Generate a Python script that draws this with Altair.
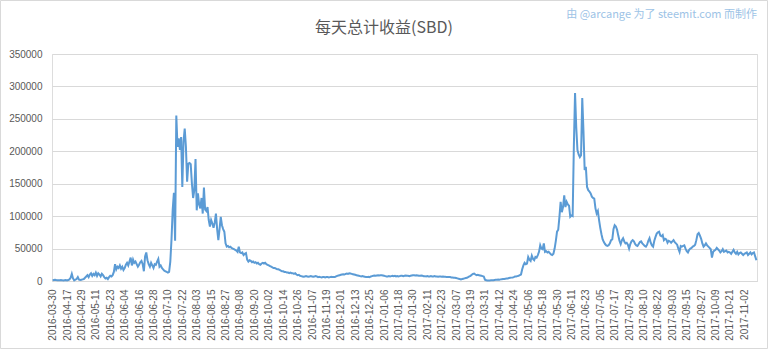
import altair as alt
import pandas as pd

# Daily total payout (SBD)
values = [
    1000, 1500, 2000, 1500, 1200, 1000, 1200, 1500, 1000, 800,
    1200, 1500, 1000, 1500, 2500, 5000, 11000, 4000, 1000, 2000,
    3000, 6000, 2000, 1500, 2000, 2500, 3000, 5000, 7000, 9000,
    6000, 10000, 12000, 8000, 11000, 9000, 13000, 8000, 12000, 10000,
    7000, 11000, 9000, 6000, 4000, 5000, 3000, 6000, 8000, 7000,
    9000, 14000, 26000, 18000, 22000, 20000, 24000, 19000, 22000, 17000,
    20000, 25000, 28000, 24000, 30000, 36000, 24000, 33000, 28000, 30000,
    26000, 22000, 25000, 29000, 31000, 26000, 15000, 38000, 44000, 32000,
    26000, 22000, 28000, 24000, 20000, 26000, 25000, 30000, 34000, 22000,
    24000, 20000, 18000, 16000, 15000, 14000, 13000, 14000, 30000, 64000,
    110000, 136000, 62000, 255000, 207000, 220000, 202000, 222000, 145000, 215000,
    235000, 207000, 153000, 181000, 182000, 180000, 150000, 128000, 140000, 188000,
    109000, 135000, 118000, 112000, 128000, 104000, 144000, 110000, 108000, 114000,
    94000, 84000, 94000, 89000, 82000, 90000, 104000, 80000, 63000, 80000,
    99000, 86000, 80000, 76000, 58000, 53000, 54000, 52000, 53000, 51000,
    50000, 49000, 48000, 47000, 45000, 53000, 44000, 43000, 44000, 40000,
    42000, 43000, 33000, 30000, 32000, 31000, 29000, 30000, 28000, 29000,
    27000, 28000, 26000, 25000, 27000, 28000, 27000, 28000, 26000, 25000,
    24000, 23000, 22000, 21000, 20000, 20000, 19000, 18000, 18000, 17000,
    16000, 15000, 15000, 14000, 14000, 13000, 13000, 12000, 13000, 12000,
    12000, 11000, 12000, 10000, 9000, 9500, 8000, 7500, 7000, 6500,
    7000, 7500, 7000, 6500, 7000, 7500, 7000, 6500, 7000, 7500,
    7000, 6000, 6500, 6000, 5500, 6000, 6000, 5500, 6000, 6000,
    5500, 6000, 6500, 6000, 6000, 6000, 7000, 8000, 8500, 9000,
    9500, 10000, 10500, 10000, 11000, 11500, 11000, 12000, 11500, 11000,
    10500, 10000, 9500, 9000, 8500, 8000, 7500, 7000, 7500, 7000,
    6500, 6000, 6000, 6500, 6000, 7000, 7500, 8000, 8500, 8000,
    8500, 9000, 8500, 9000, 9000, 8500, 8000, 7500, 7000, 7000,
    7500, 7000, 7500, 8000, 7500, 8000, 7000, 7500, 7000, 7500,
    8000, 8000, 7500, 8000, 8500, 8000, 8000, 7500, 8000, 8500,
    9000, 9000, 8500, 9000, 8500, 8000, 8000, 8500, 8000, 7500,
    7500, 7000, 7500, 7000, 7000, 7500, 7000, 7000, 7500, 7000,
    7000, 6500, 7000, 7000, 6500, 7000, 6500, 6500, 6000, 6000,
    6000, 6000, 5500, 5500, 5000, 5000, 4500, 4000, 3500, 3000,
    2500, 3000, 3500, 4000, 4500, 5000, 6000, 7000, 8000, 9500,
    11000, 11500, 10000, 9000, 9500, 9000, 8500, 8000, 7500, 7000,
    2000, 1000, 800, 700, 800, 1000, 1000, 1200, 1500, 1800,
    2000, 2200, 2000, 2500, 2800, 3000, 3200, 3500, 3800, 4000,
    4500, 5000, 5200, 5500, 6000, 7000, 7000, 7500, 8000, 9000,
    10000, 18000, 24000, 28000, 26000, 27000, 37000, 33000, 31000, 39000,
    34000, 32000, 37000, 36000, 40000, 45000, 55000, 50000, 49000, 58000,
    45000, 46000, 44000, 45000, 43000, 41000, 40000, 42000, 50000, 62000,
    76000, 79000, 99000, 122000, 106000, 114000, 132000, 114000, 122000, 118000,
    116000, 99000, 101000, 100000, 207000, 290000, 237000, 202000, 195000, 191000,
    194000, 282000, 232000, 171000, 176000, 145000, 140000, 138000, 135000, 130000,
    128000, 127000, 112000, 104000, 108000, 94000, 82000, 72000, 64000, 60000,
    57000, 55000, 54000, 55000, 58000, 63000, 64000, 80000, 86000, 84000,
    79000, 70000, 62000, 57000, 63000, 66000, 61000, 58000, 59000, 56000,
    50000, 57000, 61000, 63000, 61000, 57000, 55000, 54000, 57000, 60000,
    61000, 58000, 56000, 54000, 53000, 56000, 62000, 66000, 59000, 55000,
    53000, 62000, 68000, 73000, 75000, 76000, 70000, 69000, 71000, 63000,
    65000, 64000, 59000, 62000, 61000, 59000, 61000, 63000, 60000, 58000,
    56000, 50000, 45000, 54000, 53000, 54000, 55000, 50000, 46000, 44000,
    48000, 50000, 51000, 53000, 54000, 56000, 63000, 72000, 74000, 70000,
    65000, 58000, 53000, 55000, 58000, 55000, 53000, 51000, 49000, 36000,
    45000, 47000, 48000, 51000, 49000, 47000, 44000, 46000, 49000, 45000,
    46000, 47000, 44000, 45000, 44000, 42000, 45000, 48000, 44000, 42000,
    45000, 41000, 43000, 44000, 42000, 40000, 42000, 43000, 44000, 40000,
    42000, 44000, 41000, 43000, 44000, 38000, 32000,
]

# Categories: first day, then a gap, then consecutive days
first_day = "2016-03-30"
continuous_start = "2016-04-06"
dates = [first_day] + [
    d.strftime("%Y-%m-%d")
    for d in pd.date_range(continuous_start, periods=len(values) - 1, freq="D")
]
tick_labels = dates[::12]
y_ticks = [0, 50000, 100000, 150000, 200000, 250000, 300000, 350000]

title_text = "每天总计收益(SBD)"
credit_text = "由 @arcange 为了 steemit.com 而制作"

df = pd.DataFrame({"date": dates, "sbd": values})

PLOT_W, PLOT_H = 705, 227
PAD_L, PAD_T, PAD_R, PAD_B = 52, 54, 11, 68
label_color = "#595959"
grid_color = "#D9D9D9"

line = alt.Chart(df).mark_line(color="#5B9BD5", strokeWidth=2).encode(
    x=alt.X(
        "date:O",
        sort=None,
        scale=alt.Scale(type="point", padding=0.5),
        axis=alt.Axis(
            values=tick_labels,
            labelAngle=-90,
            title=None,
            ticks=False,
            labelPadding=8,
            domainColor=grid_color,
            labelColor=label_color,
            labelFontSize=10,
            labelFont="Liberation Sans",
            grid=False,
            labelOverlap=False,
        ),
    ),
    y=alt.Y(
        "sbd:Q",
        scale=alt.Scale(domain=[0, 350000], nice=False),
        axis=alt.Axis(
            values=y_ticks,
            format="d",
            title=None,
            domain=False,
            ticks=False,
            labelPadding=10,
            gridColor=grid_color,
            labelColor=label_color,
            labelFontSize=10,
            labelFont="Liberation Sans",
        ),
    ),
)

title = alt.Chart(pd.DataFrame({"t": [title_text]})).mark_text(
    align="center",
    baseline="middle",
    color=label_color,
    fontSize=16,
    font="Noto Sans CJK SC",
).encode(text="t:N", x=alt.value(384 - PAD_L), y=alt.value(28 - PAD_T))

credit = alt.Chart(pd.DataFrame({"t": [credit_text]})).mark_text(
    align="right",
    baseline="middle",
    color="#9DC3E6",
    fontSize=11,
    font="Noto Sans CJK SC",
).encode(text="t:N", x=alt.value(PLOT_W), y=alt.value(15 - PAD_T))

frame = alt.Chart(pd.DataFrame({"k": [0]})).mark_rect(
    fill=None, stroke="#D9D9D9", strokeWidth=1
).encode(
    x=alt.value(-PAD_L + 0.5),
    x2=alt.value(PLOT_W + PAD_R - 0.5),
    y=alt.value(-PAD_T + 0.5),
    y2=alt.value(PLOT_H + PAD_B - 0.5),
)

chart = (
    alt.layer(frame, line, title, credit)
    .properties(
        width=PLOT_W,
        height=PLOT_H,
        autosize=alt.AutoSizeParams(type="none"),
        padding={"left": PAD_L, "top": PAD_T, "right": PAD_R, "bottom": PAD_B},
    )
    .configure_view(stroke=None)
    .configure(background="white")
)

chart.save("out.html", embed_options={"renderer": "svg", "actions": False})
